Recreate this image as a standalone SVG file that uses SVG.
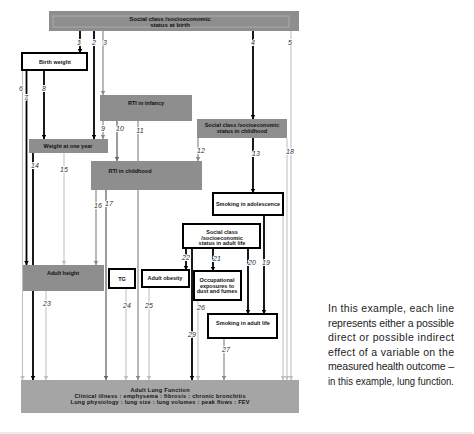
<svg xmlns="http://www.w3.org/2000/svg" width="474" height="434" viewBox="0 0 474 434">
<style>
.g{fill:#8e8e8e}
.w{fill:#fff;stroke:#000;stroke-width:2}
.t{font-family:"Liberation Sans",Arial,sans-serif;font-size:5.5px;font-weight:bold;fill:#111;text-anchor:middle}
.lb{font-family:"Liberation Sans",Arial,sans-serif;font-size:7px;font-style:italic;fill:#333;text-anchor:middle;stroke:#fff;stroke-width:2;paint-order:stroke}
.k{stroke:#000;stroke-width:1.8;fill:none}
.d{stroke:#666;stroke-width:1.3;fill:none}
.m{stroke:#8a8a8a;stroke-width:1.2;fill:none}
.l{stroke:#bdbdbd;stroke-width:1;fill:none}
.side{font-family:"Liberation Sans",Arial,sans-serif;font-size:10.5px;fill:#222}
</style>
<defs>
<marker id="ak" markerUnits="userSpaceOnUse" markerWidth="5" markerHeight="5" refX="4.5" refY="2.5" orient="auto"><path d="M0,0L4.5,2.5L0,5z" fill="#000"/></marker>
<marker id="ad" markerUnits="userSpaceOnUse" markerWidth="5" markerHeight="5" refX="4.5" refY="2.5" orient="auto"><path d="M0,0L4.5,2.5L0,5z" fill="#666"/></marker>
<marker id="am" markerUnits="userSpaceOnUse" markerWidth="5" markerHeight="5" refX="4.5" refY="2.5" orient="auto"><path d="M0,0L4.5,2.5L0,5z" fill="#8a8a8a"/></marker>
<marker id="al" markerUnits="userSpaceOnUse" markerWidth="5" markerHeight="5" refX="4.5" refY="2.5" orient="auto"><path d="M0,0L4.5,2.5L0,5z" fill="#bdbdbd"/></marker>
</defs>
<rect width="474" height="434" fill="#fff"/>
<rect x="0" y="432" width="472" height="2" fill="#ececec"/>

<g id="connectors">
<line class="k" x1="80" y1="31" x2="80" y2="53" marker-end="url(#ak)"/>
<line class="k" x1="94" y1="31" x2="94" y2="139" marker-end="url(#ak)"/>
<line class="m" x1="103" y1="31" x2="103" y2="95" marker-end="url(#am)"/>
<line class="k" x1="253" y1="31" x2="253" y2="119" marker-end="url(#ak)"/>
<line class="l" x1="291" y1="31" x2="291" y2="380" marker-end="url(#al)"/>
<line class="l" x1="22.5" y1="71" x2="22.5" y2="380" marker-end="url(#al)"/>
<line class="k" x1="26.5" y1="71" x2="26.5" y2="265" marker-end="url(#ak)"/>
<line class="k" x1="44" y1="71" x2="44" y2="139" marker-end="url(#ak)"/>
<line class="m" x1="103" y1="121" x2="103" y2="139" marker-end="url(#am)"/>
<line class="d" x1="117" y1="121" x2="117" y2="161" marker-end="url(#ad)"/>
<line class="m" x1="138" y1="121" x2="138" y2="380" marker-end="url(#am)"/>
<line class="m" x1="198" y1="138" x2="198" y2="161" marker-end="url(#am)"/>
<line class="k" x1="253" y1="138" x2="253" y2="193" marker-end="url(#ak)"/>
<line class="k" x1="33" y1="153" x2="33" y2="380" marker-end="url(#ak)"/>
<line class="l" x1="64" y1="153" x2="64" y2="265" marker-end="url(#al)"/>
<line class="m" x1="96" y1="190" x2="96" y2="265" marker-end="url(#am)"/>
<line class="d" x1="106" y1="190" x2="106" y2="380" marker-end="url(#ad)"/>
<line class="l" x1="287" y1="138" x2="287" y2="380" marker-end="url(#al)"/>
<line class="l" x1="283" y1="215" x2="283" y2="380" marker-end="url(#al)"/>
<line class="k" x1="264" y1="215" x2="264" y2="314" marker-end="url(#ak)"/>
<line class="k" x1="248" y1="248" x2="248" y2="314" marker-end="url(#ak)"/>
<line class="k" x1="213" y1="248" x2="213" y2="271" marker-end="url(#ak)"/>
<line class="k" x1="186" y1="248" x2="186" y2="270" marker-end="url(#ak)"/>
<line class="k" x1="192" y1="248" x2="192" y2="380" marker-end="url(#ak)"/>
<line class="l" x1="46" y1="291" x2="46" y2="380" marker-end="url(#al)"/>
<line class="l" x1="126" y1="288" x2="126" y2="380" marker-end="url(#al)"/>
<line class="l" x1="149" y1="287" x2="149" y2="380" marker-end="url(#al)"/>
<line class="l" x1="198" y1="300" x2="198" y2="380" marker-end="url(#al)"/>
<line class="m" x1="224" y1="338" x2="224" y2="380" marker-end="url(#am)"/>
<text class="lb" x="79" y="45">1</text>
<text class="lb" x="94" y="45">2</text>
<text class="lb" x="105" y="45">3</text>
<text class="lb" x="253" y="45">4</text>
<text class="lb" x="290" y="45">5</text>
<text class="lb" x="21" y="91">6</text>
<text class="lb" x="26" y="100">7</text>
<text class="lb" x="44" y="91">8</text>
<text class="lb" x="103" y="131">9</text>
<text class="lb" x="120" y="131">10</text>
<text class="lb" x="140" y="133">11</text>
<text class="lb" x="201" y="153">12</text>
<text class="lb" x="256" y="156">13</text>
<text class="lb" x="35" y="168">14</text>
<text class="lb" x="64" y="172">15</text>
<text class="lb" x="98" y="208">16</text>
<text class="lb" x="109" y="206">17</text>
<text class="lb" x="290" y="154">18</text>
<text class="lb" x="266" y="265">19</text>
<text class="lb" x="252" y="265">20</text>
<text class="lb" x="217" y="261">21</text>
<text class="lb" x="186" y="260">22</text>
<text class="lb" x="47" y="306">23</text>
<text class="lb" x="127" y="308">24</text>
<text class="lb" x="149" y="308">25</text>
<text class="lb" x="201" y="310">26</text>
<text class="lb" x="226" y="352">27</text>
<text class="lb" x="192" y="337">29</text>
</g>

<g id="ses-birth">
<rect class="g" x="49" y="11" width="250" height="20"/>
<rect x="53" y="16" width="236" height="11" fill="none" stroke="#ababab" stroke-width="1"/>
<text class="t" x="170" y="21" style="font-size:6px">Social class /socioeconomic</text>
<text class="t" x="170" y="26.5" style="font-size:6px">status at birth</text>
</g>
<g id="birth-weight">
<rect class="w" x="22" y="53" width="65" height="17"/>
<text class="t" x="55" y="63.5">Birth weight</text>
</g>
<g id="rti-infancy">
<rect class="g" x="100" y="95" width="92" height="26"/>
<text class="t" x="146" y="105">RTI in infancy</text>
</g>
<g id="weight-one-year">
<rect class="g" x="29" y="139" width="79" height="14"/>
<text class="t" x="68" y="148">Weight at one year</text>
</g>
<g id="ses-childhood">
<rect class="g" x="197" y="119" width="90" height="19"/>
<text class="t" x="242" y="127">Social class /socioeconomic</text>
<text class="t" x="242" y="133">status in childhood</text>
</g>
<g id="rti-childhood">
<rect class="g" x="91" y="161" width="111" height="29"/>
<text class="t" x="130" y="173">RTI in childhood</text>
</g>
<g id="smoking-adolescence">
<rect class="w" x="213" y="193" width="70" height="22"/>
<text class="t" x="248" y="206">Smoking in adolescence</text>
</g>
<g id="ses-adult">
<rect class="w" x="183" y="224" width="77" height="24"/>
<text class="t" x="222" y="234">Social class</text>
<text class="t" x="222" y="239.5">/socioeconomic</text>
<text class="t" x="222" y="245">status in adult life</text>
</g>
<g id="adult-height">
<rect class="g" x="23" y="265" width="81" height="26"/>
<text class="t" x="63" y="275">Adult height</text>
</g>
<g id="tg">
<rect class="w" x="109" y="269" width="26" height="19"/>
<text class="t" x="122" y="280.5">TG</text>
</g>
<g id="adult-obesity">
<rect class="w" x="142" y="270" width="47" height="17"/>
<text class="t" x="165" y="280">Adult obesity</text>
</g>
<g id="occupational">
<rect class="w" x="194" y="271" width="47" height="29"/>
<text class="t" x="217" y="282">Occupational</text>
<text class="t" x="217" y="287.5">exposures to</text>
<text class="t" x="217" y="293">dust and fumes</text>
</g>
<g id="smoking-adult">
<rect class="w" x="208" y="314" width="69" height="24"/>
<text class="t" x="243" y="324.5">Smoking in adult life</text>
</g>
<g id="lung-function">
<rect x="21" y="380" width="278" height="33" fill="#a5a5a5"/>
<text class="t" x="160" y="392" textLength="59">Adult Lung Function</text>
<text class="t" x="160" y="398" textLength="171">Clinical illness : emphysema : fibrosis : chronic bronchitis</text>
<text class="t" x="160" y="404" textLength="179">Lung physiology : lung size : lung volumes : peak flows : FEV</text>
</g>

<g id="note">
<text class="side" x="328" y="312" textLength="126" lengthAdjust="spacing">In this example, each line</text>
<text class="side" x="328" y="326.5" textLength="126" lengthAdjust="spacing">represents either a possible</text>
<text class="side" x="328" y="341" textLength="126" lengthAdjust="spacing">direct or possible indirect</text>
<text class="side" x="328" y="355.5" textLength="126" lengthAdjust="spacing">effect of a variable on the</text>
<text class="side" x="328" y="370" textLength="126" lengthAdjust="spacing">measured health outcome –</text>
<text class="side" x="328" y="384.5" textLength="126" lengthAdjust="spacingAndGlyphs">in this example, lung function.</text>
</g>
</svg>
